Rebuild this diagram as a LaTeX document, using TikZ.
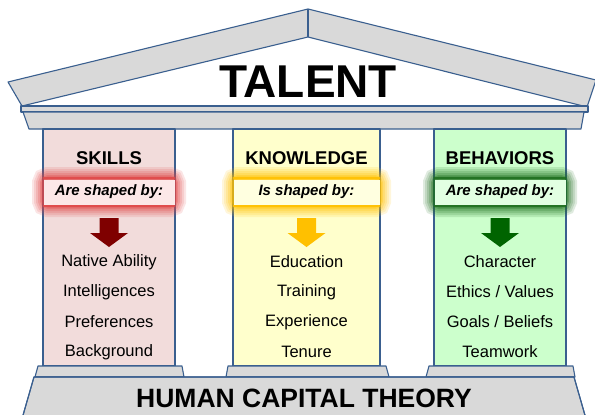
\documentclass[tikz,border=0pt]{standalone}
\usepackage{fontspec}
\setmainfont{Liberation Sans}
\definecolor{edge}{HTML}{3A5F8F}
\definecolor{stone}{HTML}{D9D9D9}
\definecolor{pinkcol}{HTML}{F2DCDB}
\definecolor{yellowcol}{HTML}{FFFFCC}
\definecolor{greencol}{HTML}{CCFFCC}
\definecolor{redglow}{HTML}{E04848}
\definecolor{yellowglow}{HTML}{FFC000}
\definecolor{greenglow}{HTML}{1E6E1E}
\definecolor{redband}{HTML}{FCE8E8}
\definecolor{yellowband}{HTML}{FFFFE0}
\definecolor{greenband}{HTML}{E2FFE2}
\definecolor{redarrow}{HTML}{7F0000}
\definecolor{yellowarrow}{HTML}{FFC000}
\definecolor{greenarrow}{HTML}{006400}

% glowing caption band across a column: left x, right x, glow colour, band fill
\newcommand{\glowband}[4]{%
  \foreach \w/\o in {22/0.14,18/0.15,14/0.18,10/0.22,6/0.30,3/0.40}{%
    \draw[#3, line width=\w pt, opacity=\o, rounded corners=5pt] (#1,178) rectangle (#2,206);}
  \draw[#3, line width=2pt, opacity=0.8] (#1,178) -- (#2,178) (#1,206) -- (#2,206);
  \fill[#4] (#1+0.5,179.5) rectangle (#2-0.5,204.5);
}
% block arrow pointing down, centred at x
\newcommand{\blockdown}[2]{%
  \fill[#2] (#1-9.5,218) -- (#1+9.5,218) -- (#1+9.5,233) -- (#1+19,233)
    -- (#1,247) -- (#1-19,233) -- (#1-9.5,233) -- cycle;
}

\begin{document}
\begin{tikzpicture}[x=1pt,y=-1pt,
  outline/.style={draw=edge, line width=1.1pt, line join=round},
  stone/.style={outline, fill=stone},
  head/.style={font=\bfseries\fontsize{18.5}{20}\selectfont},
  shaped/.style={font=\bfseries\itshape\fontsize{15}{17}\selectfont},
  item/.style={font=\fontsize{16.5}{18}\selectfont},
]
\useasboundingbox (0,0) rectangle (595,415);

% roof
\path[stone] (8,82) -- (308,9) -- (596,80) -- (587,107) -- (308,37) -- (22,106) -- cycle;
\draw[outline] (308,9) -- (308,37);
\path[stone] (21,106) rectangle (588,112);
\path[stone] (23,112) -- (584,112) -- (581,129) -- (29,129) -- cycle;
\node[font=\bfseries\fontsize{46}{50}\selectfont] (talent) at (308,82) {TALENT};

% columns
\path[outline, fill=pinkcol] (43,129) rectangle (175,366);
\path[outline, fill=yellowcol] (233,129) rectangle (380,366);
\path[outline, fill=greencol] (434,129) rectangle (566,366);

% column headings
\node[head] (skills) at (109,158) {SKILLS};
\node[head] (knowledge) at (306.5,158) {KNOWLEDGE};
\node[head] (behaviors) at (500,158) {BEHAVIORS};

% caption bands
\glowband{43}{175}{redglow}{redband}
\glowband{233}{380}{yellowglow}{yellowband}
\glowband{434}{566}{greenglow}{greenband}
\node[shaped] (skillsby) at (109,192) {Are shaped by:};
\node[shaped] (knowledgeby) at (306.5,192) {Is shaped by:};
\node[shaped] (behaviorsby) at (500,192) {Are shaped by:};

% arrows
\blockdown{109}{redarrow}
\blockdown{306.5}{yellowarrow}
\blockdown{500}{greenarrow}

% influences
\node[item] (s1) at (109,262) {Native Ability};
\node[item] (s2) at (109,292) {Intelligences};
\node[item] (s3) at (109,322) {Preferences};
\node[item] (s4) at (109,352) {Background};
\node[item] (k1) at (306.5,262) {Education};
\node[item] (k2) at (306.5,292) {Training};
\node[item] (k3) at (306.5,322) {Experience};
\node[item] (k4) at (306.5,352) {Tenure};
\node[item] (b1) at (500,262) {Character};
\node[item] (b2) at (500,292) {Ethics / Values};
\node[item] (b3) at (500,322) {Goals / Beliefs};
\node[item] (b4) at (500,352) {Teamwork};

% column bases
\path[stone] (38,366) -- (182,366) -- (184,377) -- (35,377) -- cycle;
\path[stone] (228,366) -- (386,366) -- (389,377) -- (226,377) -- cycle;
\path[stone] (429,366) -- (573,366) -- (575,377) -- (426,377) -- cycle;

% foundation
\fill[stone] (34,377) -- (574,377) -- (585.5,417) -- (22.5,417) -- cycle;
\draw[outline] (22.5,417) -- (34,377) -- (574,377) -- (585.5,417);
\node[font=\bfseries\fontsize{26.5}{28}\selectfont] (theory) at (304,398) {HUMAN CAPITAL THEORY};
\end{tikzpicture}
\end{document}
